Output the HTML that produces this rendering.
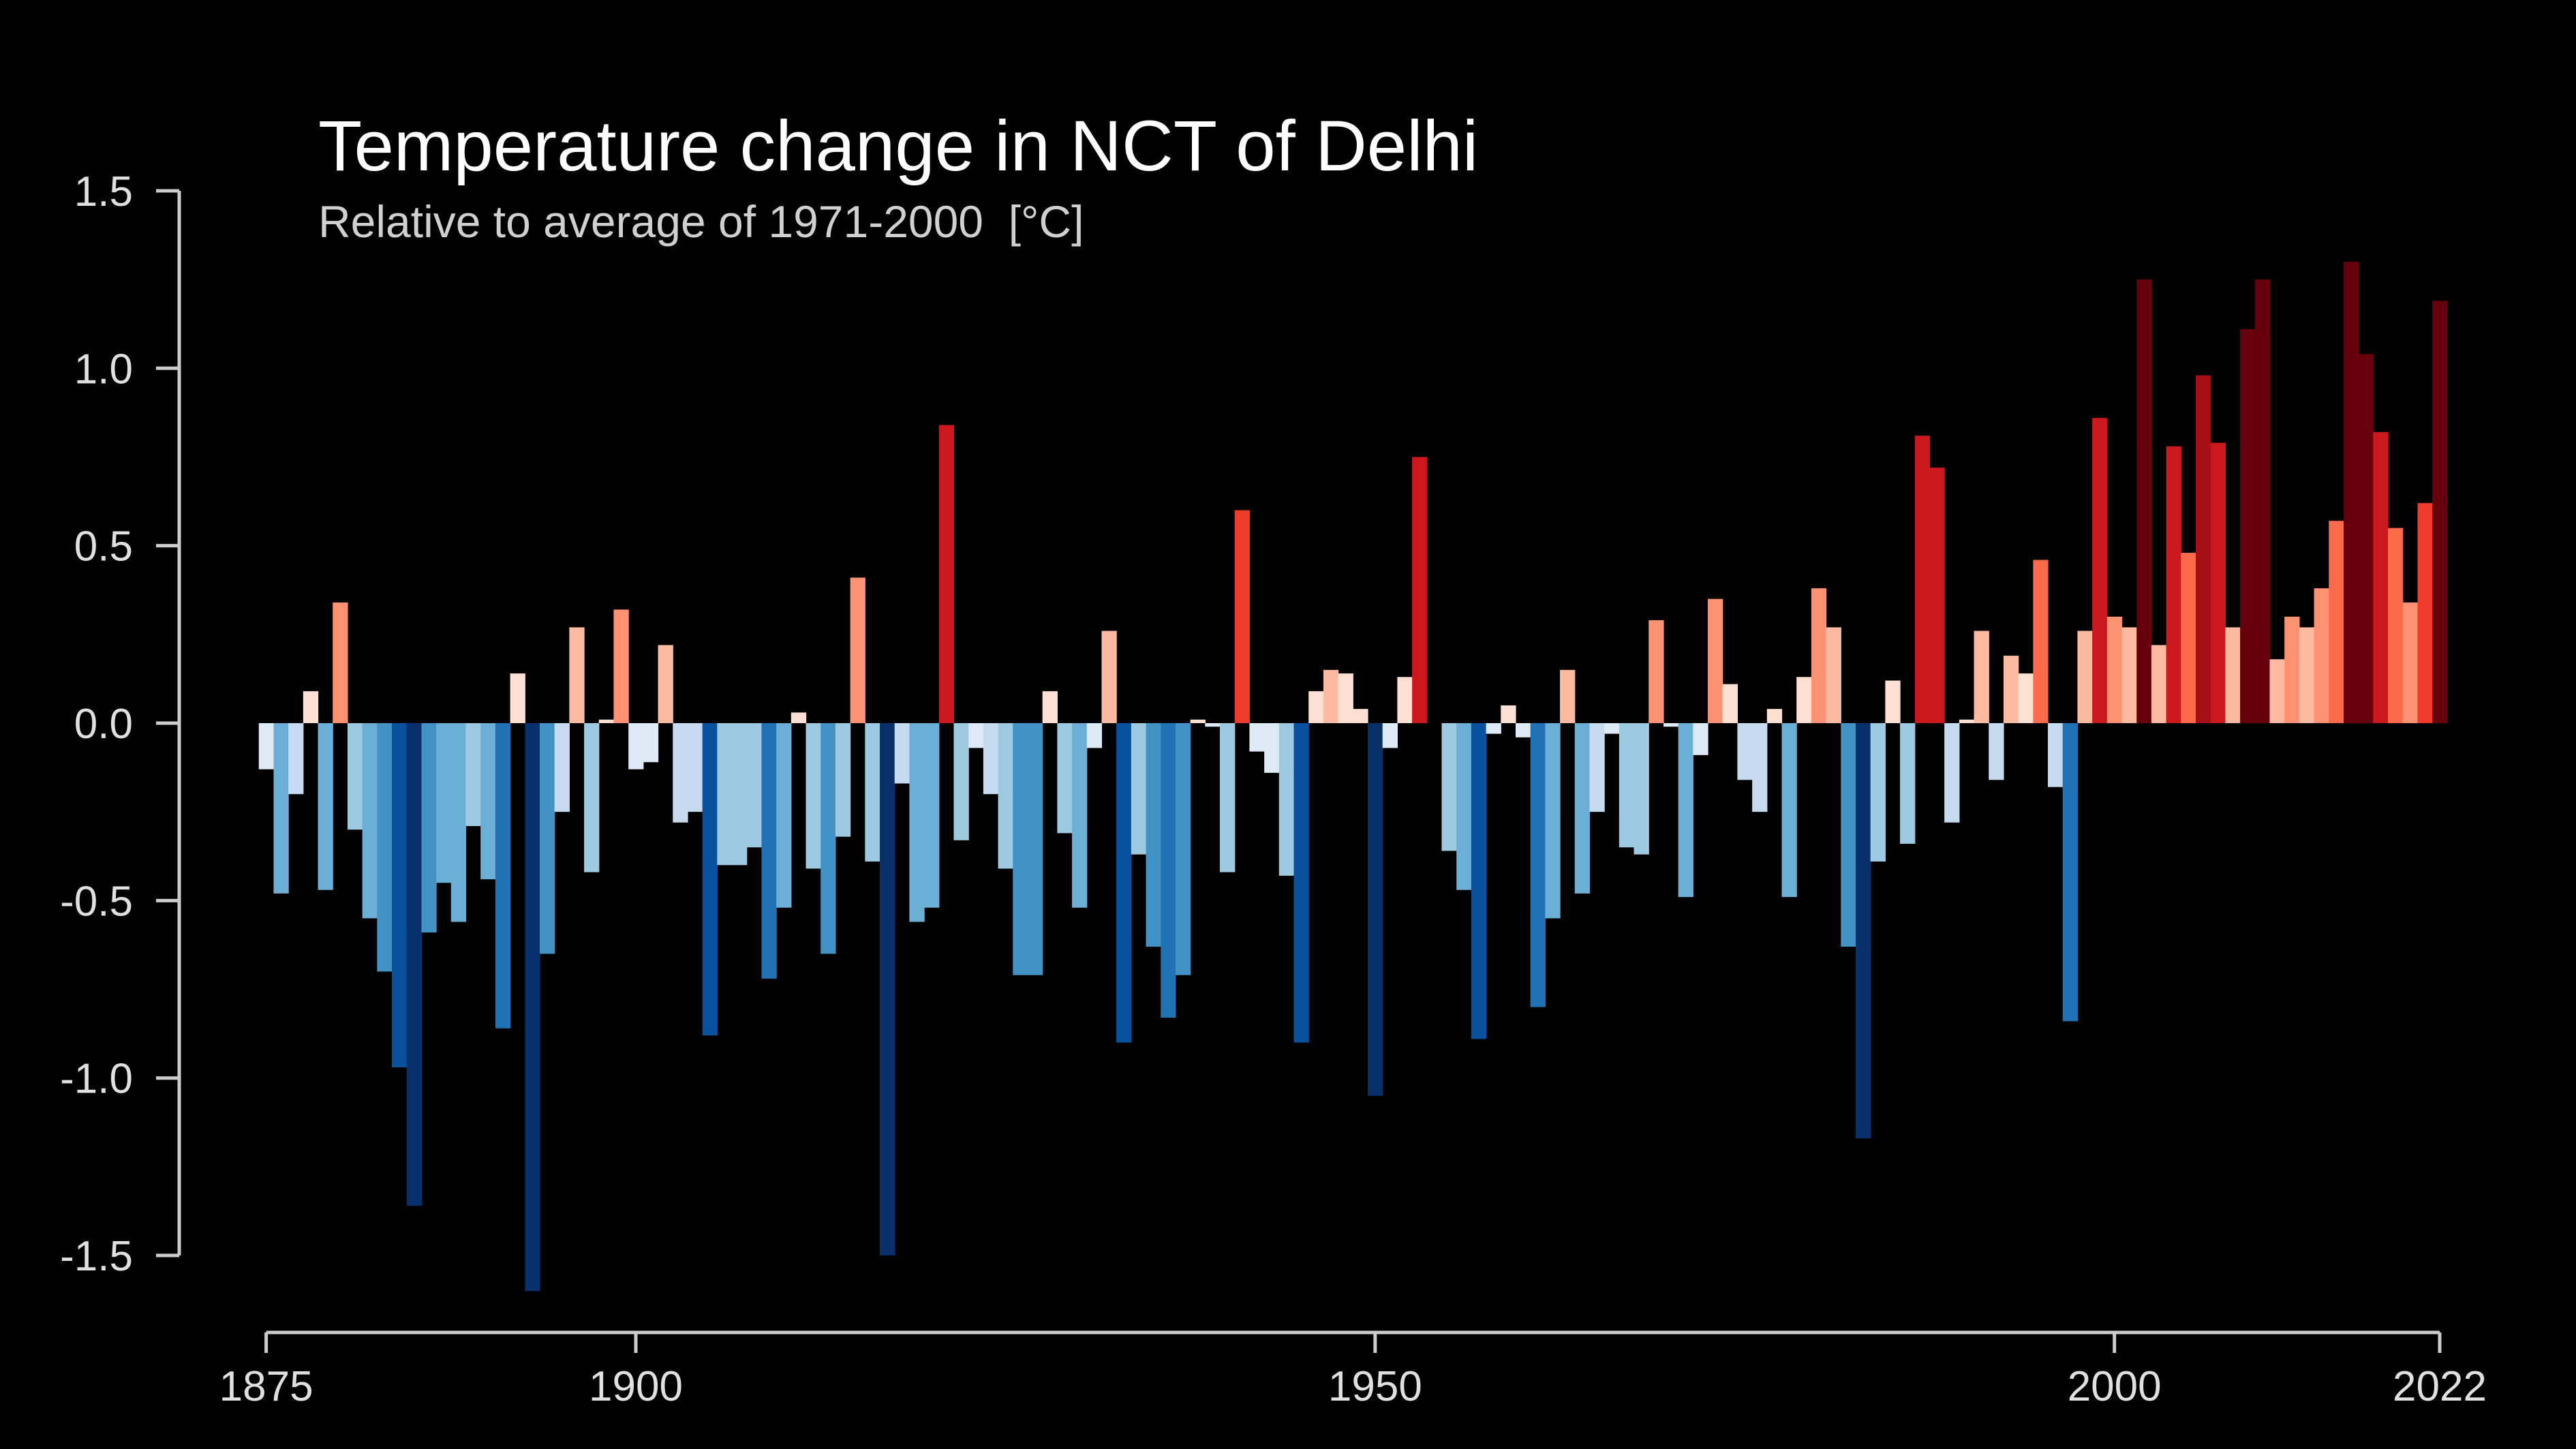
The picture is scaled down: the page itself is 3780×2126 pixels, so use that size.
<!DOCTYPE html>
<html><head><meta charset="utf-8"><style>
html,body{margin:0;padding:0;background:#000;}
svg{display:block;}
text{font-family:"Liberation Sans",Arial,sans-serif;}
</style></head><body>
<svg id="chart" width="3780" height="2126" viewBox="0 0 3780 2126" xmlns="http://www.w3.org/2000/svg">
<rect x="0" y="0" width="3780" height="2126" fill="#000"/>
<text x="467" y="250" font-size="105" fill="#ffffff">Temperature change in NCT of Delhi</text>
<text x="467" y="348" font-size="66" fill="#d0d0d0" style="white-space:pre" xml:space="preserve">Relative to average of 1971-2000  [°C]</text>
<g id="bars"></g>
<g id="axes"></g>
</svg>
<script>
const startYear = 1875;
const values = [
-0.13,-0.48,-0.20,0.09,-0.47,0.34,-0.30,-0.55,-0.70,-0.97,
-1.36,-0.59,-0.45,-0.56,-0.29,-0.44,-0.86,0.14,-1.60,-0.65,
-0.25,0.27,-0.42,0.01,0.32,-0.13,-0.11,0.22,-0.28,-0.25,
-0.88,-0.40,-0.40,-0.35,-0.72,-0.52,0.03,-0.41,-0.65,-0.32,
0.41,-0.39,-1.50,-0.17,-0.56,-0.52,0.84,-0.33,-0.07,-0.20,
-0.41,-0.71,-0.71,0.09,-0.31,-0.52,-0.07,0.26,-0.90,-0.37,
-0.63,-0.83,-0.71,0.01,-0.01,-0.42,0.60,-0.08,-0.14,-0.43,
-0.90,0.09,0.15,0.14,0.04,-1.05,-0.07,0.13,0.75,0.00,
-0.36,-0.47,-0.89,-0.03,0.05,-0.04,-0.80,-0.55,0.15,-0.48,
-0.25,-0.03,-0.35,-0.37,0.29,-0.01,-0.49,-0.09,0.35,0.11,
-0.16,-0.25,0.04,-0.49,0.13,0.38,0.27,-0.63,-1.17,-0.39,
0.12,-0.34,0.81,0.72,-0.28,0.01,0.26,-0.16,0.19,0.14,
0.46,-0.18,-0.84,0.26,0.86,0.30,0.27,1.25,0.22,0.78,
0.48,0.98,0.79,0.27,1.11,1.25,0.18,0.30,0.27,0.38,
0.57,1.30,1.04,0.82,0.55,0.34,0.62,1.19
];
const yTicks = [1.5,1.0,0.5,0.0,-0.5,-1.0,-1.5];
const yTickLabels = ["1.5","1.0","0.5","0.0","-0.5","-1.0","-1.5"];
const xTicks = [1875,1900,1950,2000,2022];
const palette = ["#08306b","#08519c","#2171b5","#4292c6","#6baed6","#9ecae1","#c6dbef","#deebf7","#fee0d2","#fcbba1","#fc9272","#fb6a4a","#ef3b2c","#cb181d","#a50f15","#67000d"];

const NS="http://www.w3.org/2000/svg";
const x0=390.6, yearW=(3580-390.6)/147;
const yZero=1061, unit=520.7;
function xs(year){return x0+(year-startYear)*yearW;}
function ys(v){return yZero-v*unit;}
function colorFor(v){let b=Math.floor((v+1.15)/0.14375);b=Math.max(0,Math.min(15,b));return palette[b];}

const bars=document.getElementById('bars');
values.forEach((v,i)=>{
  const yr=startYear+i;
  const r=document.createElementNS(NS,'rect');
  const yTop=Math.min(ys(v),ys(0)), h=Math.abs(ys(v)-ys(0));
  r.setAttribute('x',(xs(yr)-yearW/2).toFixed(2));
  r.setAttribute('y',yTop.toFixed(2));
  r.setAttribute('width',(yearW+0.6).toFixed(2));
  r.setAttribute('height',Math.max(h,0.01).toFixed(2));
  r.setAttribute('fill',colorFor(v));
  
  
  bars.appendChild(r);
});

const axes=document.getElementById('axes');
function line(x1,y1,x2,y2,name){
  const l=document.createElementNS(NS,'line');
  l.setAttribute('x1',x1);l.setAttribute('y1',y1);l.setAttribute('x2',x2);l.setAttribute('y2',y2);
  l.setAttribute('stroke','#cccccc');l.setAttribute('stroke-width','5');
  
  
  axes.appendChild(l);
}
function label(x,y,txt,anchor,name){
  const t=document.createElementNS(NS,'text');
  t.setAttribute('x',x);t.setAttribute('y',y);t.setAttribute('text-anchor',anchor);
  t.setAttribute('font-size','62');t.setAttribute('fill','#e0e0e0');
  t.textContent=txt;
  
  
  axes.appendChild(t);
}
const yAxisX=263;
line(yAxisX,ys(1.5),yAxisX,ys(-1.5),'y-axis-line');
yTicks.forEach((v,i)=>{
  line(yAxisX-34,ys(v),yAxisX,ys(v),'y-tick');
  label(195,ys(v)+22,yTickLabels[i],'end','y-tick-label');
});
const xAxisY=1955;
line(xs(1875),xAxisY,xs(2022),xAxisY,'x-axis-line');
xTicks.forEach(yr=>{
  line(xs(yr),xAxisY,xs(yr),xAxisY+30,'x-tick');
  label(xs(yr),2055,String(yr),'middle','x-tick-label');
});
</script>
</body></html>
